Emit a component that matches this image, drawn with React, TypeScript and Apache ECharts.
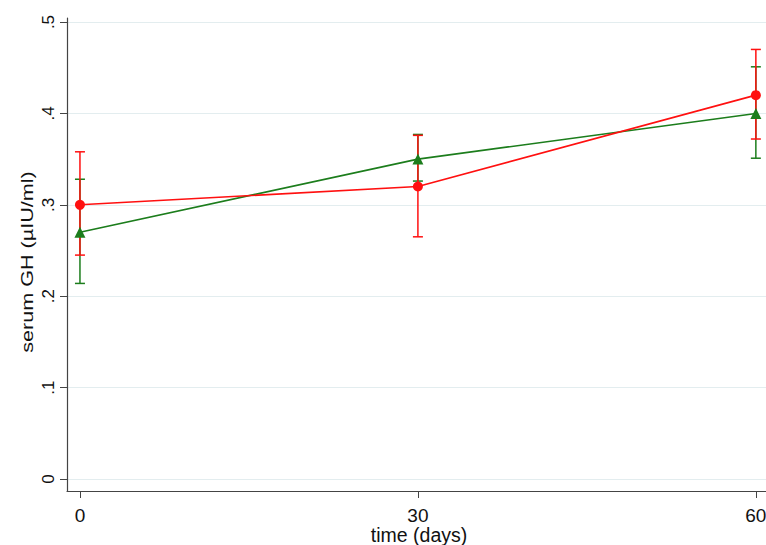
import React, { useEffect, useRef } from "react";
import * as echarts from "echarts";

const days = [0, 30, 60];
const redMean = [0.30, 0.32, 0.42];
const redLow = [0.245, 0.265, 0.372];
const redHigh = [0.358, 0.376, 0.470];
const greenMean = [0.27, 0.35, 0.40];
const greenLow = [0.214, 0.326, 0.351];
const greenHigh = [0.328, 0.377, 0.451];
const yTicks = [0, 0.1, 0.2, 0.3, 0.4, 0.5];
const xTicks = [0, 30, 60];
const xTitle = "time (days)";
const yTitle = "serum GH (µIU/ml)";

const RED = "#ff1010";
const GREEN = "#1c7d1c";
const FONT = "Liberation Sans, Arial, sans-serif";

function errorSeries(name: string, low: number[], high: number[], color: string, z: number) {
  return {
    type: "custom",
    name,
    z,
    data: days.map((d, i) => [d, low[i], high[i]]),
    renderItem: (_params: any, api: any) => {
      const x = api.value(0);
      const lo = api.coord([x, api.value(1)]);
      const hi = api.coord([x, api.value(2)]);
      const w = 5;
      const style = { stroke: color, lineWidth: 1.5 };
      return {
        type: "group",
        children: [
          { type: "line", shape: { x1: lo[0], y1: lo[1], x2: hi[0], y2: hi[1] }, style },
          { type: "line", shape: { x1: lo[0] - w, y1: lo[1], x2: lo[0] + w, y2: lo[1] }, style },
          { type: "line", shape: { x1: hi[0] - w, y1: hi[1], x2: hi[0] + w, y2: hi[1] }, style },
        ],
      };
    },
  };
}

export default function App() {
  const ref = useRef<HTMLDivElement>(null);
  useEffect(() => {
    if (!ref.current) return;
    const chart = echarts.init(ref.current, undefined, { renderer: "svg" });
    chart.setOption({
      animation: false,
      backgroundColor: "#ffffff",
      grid: { left: 67, right: 0, top: 18, bottom: 54, containLabel: false, outerBoundsMode: "none" },
      graphic: [
        {
          type: "text",
          x: 28,
          y: 262,
          rotation: Math.PI / 2,
          scaleX: 1.35,
          style: {
            text: yTitle,
            fontFamily: FONT,
            fontSize: 16,
            fill: "#111",
            align: "center",
            verticalAlign: "middle",
          },
        },
        {
          type: "text",
          x: 419,
          y: 535,
          style: {
            text: xTitle,
            fontFamily: FONT,
            fontSize: 19.5,
            fill: "#111",
            align: "center",
            verticalAlign: "middle",
          },
        },
      ],
      xAxis: {
        type: "value",
        min: -1.15,
        max: 60.9,
        axisLine: { show: true, onZero: false, lineStyle: { color: "#444", width: 1.2 } },
        axisTick: { show: true, customValues: xTicks, length: 7, lineStyle: { color: "#444" } },
        axisLabel: {
          customValues: xTicks,
          fontFamily: FONT,
          fontSize: 19,
          color: "#111",
          margin: 15,
        },
        splitLine: { show: false },
      },
      yAxis: {
        type: "value",
        min: -0.0131,
        max: 0.5044,
        axisLine: { show: true, onZero: false, lineStyle: { color: "#444", width: 1.2 } },
        axisTick: { show: true, customValues: yTicks, length: 7, lineStyle: { color: "#444" } },
        axisLabel: {
          customValues: yTicks,
          rotate: 90,
          fontFamily: FONT,
          fontSize: 17,
          color: "#111",
          margin: 10,
          formatter: (v: number) => (v === 0 ? "0" : String(Math.round(v * 10) / 10).replace(/^0\./, ".")),
        },
        splitLine: {
          show: true,
          customValues: yTicks,
          lineStyle: { color: "#e3edef", width: 1 },
        },
      },
      series: [
        errorSeries("green err", greenLow, greenHigh, GREEN, 2),
        errorSeries("red err", redLow, redHigh, RED, 3),
        {
          type: "line",
          name: "green",
          z: 4,
          data: days.map((d, i) => [d, greenMean[i]]),
          symbol: "triangle",
          symbolSize: 11,
          lineStyle: { color: GREEN, width: 1.6 },
          itemStyle: { color: GREEN },
        },
        {
          type: "line",
          name: "red",
          z: 5,
          data: days.map((d, i) => [d, redMean[i]]),
          symbol: "circle",
          symbolSize: 10,
          lineStyle: { color: RED, width: 1.6 },
          itemStyle: { color: RED },
        },
      ],
    });
    return () => chart.dispose();
  }, []);
  return (
    <div
      ref={ref}
      style={{ position: "absolute", left: 0, top: 0, width: 766, height: 545 }}
    />
  );
}
